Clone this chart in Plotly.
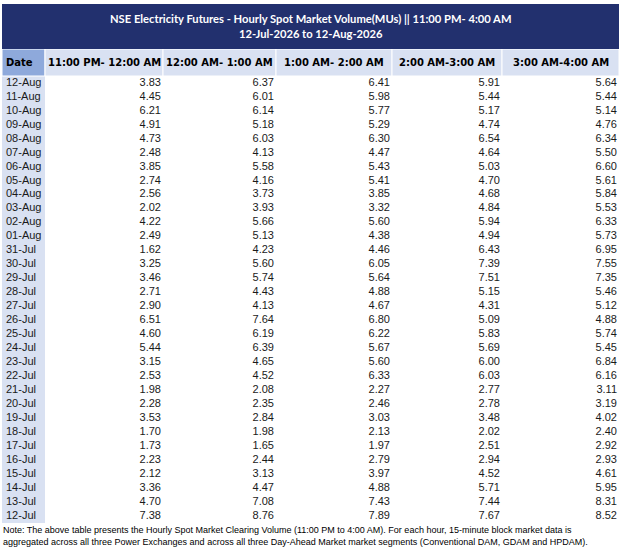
import numpy as np
import plotly.graph_objects as go

# Hourly spot market volume (MUs), newest date first
dates = ["12-Aug", "11-Aug", "10-Aug", "09-Aug", "08-Aug", "07-Aug", "06-Aug", "05-Aug",
         "04-Aug", "03-Aug", "02-Aug", "01-Aug", "31-Jul", "30-Jul", "29-Jul", "28-Jul",
         "27-Jul", "26-Jul", "25-Jul", "24-Jul", "23-Jul", "22-Jul", "21-Jul", "20-Jul",
         "19-Jul", "18-Jul", "17-Jul", "16-Jul", "15-Jul", "14-Jul", "13-Jul", "12-Jul"]

h23_00 = [3.83, 4.45, 6.21, 4.91, 4.73, 2.48, 3.85, 2.74, 2.56, 2.02, 4.22, 2.49, 1.62, 3.25, 3.46, 2.71,
          2.90, 6.51, 4.60, 5.44, 3.15, 2.53, 1.98, 2.28, 3.53, 1.70, 1.73, 2.23, 2.12, 3.36, 4.70, 7.38]
h00_01 = [6.37, 6.01, 6.14, 5.18, 6.03, 4.13, 5.58, 4.16, 3.73, 3.93, 5.66, 5.13, 4.23, 5.60, 5.74, 4.43,
          4.13, 7.64, 6.19, 6.39, 4.65, 4.52, 2.08, 2.35, 2.84, 1.98, 1.65, 2.44, 3.13, 4.47, 7.08, 8.76]
h01_02 = [6.41, 5.98, 5.77, 5.29, 6.30, 4.47, 5.43, 5.41, 3.85, 3.32, 5.60, 4.38, 4.46, 6.05, 5.64, 4.88,
          4.67, 6.80, 6.22, 5.67, 5.60, 6.33, 2.27, 2.46, 3.03, 2.13, 1.97, 2.79, 3.97, 4.88, 7.43, 7.89]
h02_03 = [5.91, 5.44, 5.17, 4.74, 6.54, 4.64, 5.03, 4.70, 4.68, 4.84, 5.94, 4.94, 6.43, 7.39, 7.51, 5.15,
          4.31, 5.09, 5.83, 5.69, 6.00, 6.03, 2.77, 2.78, 3.48, 2.02, 2.51, 2.94, 4.52, 5.71, 7.44, 7.67]
h03_04 = [5.64, 5.44, 5.14, 4.76, 6.34, 5.50, 6.60, 5.61, 5.84, 5.53, 6.33, 5.73, 6.95, 7.55, 7.35, 5.46,
          5.12, 4.88, 5.74, 5.45, 6.84, 6.16, 3.11, 3.19, 4.02, 2.40, 2.92, 2.93, 4.61, 5.95, 8.31, 8.52]

headers = ["Date", "11:00 PM- 12:00 AM", "12:00 AM- 1:00 AM", "1:00 AM- 2:00 AM",
           "2:00 AM-3:00 AM", "3:00 AM-4:00 AM"]

title_lines = ["NSE Electricity Futures - Hourly Spot Market Volume(MUs) || 11:00 PM- 4:00 AM",
               "12-Jul-2026 to 12-Aug-2026"]

note_lines = ["Note: The above table presents the Hourly Spot Market Clearing Volume (11:00 PM to 4:00 AM). "
              "For each hour, 15-minute block market data is",
              "aggregated across all three Power Exchanges and across all three Day-Ahead Market "
              "market segments (Conventional DAM, GDAM and HPDAM)."]

# styling / layout
NAVY = "#22306e"
HEAD_BG = "#d9e1f2"
DATE_HEAD = "#8ea9db"
DATE_BG = "#d9e1f2"
col_w = [43, 118, 113, 116, 110, 117]
edges = np.cumsum([0] + col_w)
W, H = 622, 559
M_T, M_B = 76, 36
plot_h = H - M_T - M_B
HEAD_H = 27
BAND_H = 45

series = [h23_00, h00_01, h01_02, h02_03, h03_04]

fig = go.Figure()

# date column
fig.add_trace(go.Scatter(
    x=[edges[0] + 4] * len(dates), y=dates, mode="text", text=dates,
    textposition="middle right", hoverinfo="skip",
    textfont=dict(family="Liberation Sans, Arial", size=11, color="#1a1a1a"),
))

# value columns, right aligned at the column's right edge
for i, vals in enumerate(series):
    fig.add_trace(go.Scatter(
        x=[edges[i + 2] - 2] * len(vals), y=dates, mode="text",
        text=["%.2f" % v for v in vals],
        textposition="middle left", hoverinfo="skip",
        textfont=dict(family="Liberation Sans, Arial", size=11, color="#1a1a1a"),
    ))

# date column background
fig.add_shape(type="rect", xref="x", yref="paper", x0=edges[0], x1=edges[1], y0=0, y1=1,
              fillcolor=DATE_BG, line_width=0, layer="below")

# header row
head_top = 1 + HEAD_H / plot_h
for i, h in enumerate(headers):
    fig.add_shape(type="rect", xref="x", yref="paper", x0=edges[i], x1=edges[i + 1],
                  y0=1, y1=head_top, fillcolor=DATE_HEAD if i == 0 else HEAD_BG,
                  line=dict(color="white", width=1), layer="below")
    fig.add_annotation(xref="x", yref="paper",
                       x=edges[i] + 2 if i == 0 else (edges[i] + edges[i + 1]) / 2,
                       y=1 + HEAD_H / 2 / plot_h, text="<b>%s</b>" % h, showarrow=False,
                       xanchor="left" if i == 0 else "center", yanchor="middle",
                       font=dict(family="DejaVu Sans", size=10, color="black"))

# title band
fig.add_shape(type="rect", xref="x", yref="paper", x0=edges[0], x1=edges[-1],
              y0=head_top, y1=head_top + BAND_H / plot_h,
              fillcolor=NAVY, line_width=0, layer="below")
fig.add_annotation(xref="paper", yref="paper", x=0.5, y=head_top + BAND_H / 2 / plot_h,
                   text="<b>%s</b><br><b>%s</b>" % (title_lines[0], title_lines[1]),
                   showarrow=False, align="center", xanchor="center", yanchor="middle",
                   font=dict(family="Lato", size=11.2, color="white"))

# note under the table
fig.add_annotation(xref="paper", yref="paper", x=0, y=0, xshift=-1,
                   text="<br>".join(note_lines), showarrow=False, align="left",
                   xanchor="left", yanchor="top",
                   font=dict(family="Liberation Sans, Arial", size=9, color="black"))

fig.update_xaxes(range=[edges[0], edges[-1]], visible=False, fixedrange=True)
fig.update_yaxes(type="category", categoryorder="array", categoryarray=dates,
                 range=[len(dates) - 0.5, -0.5], visible=False, fixedrange=True)

fig.update_layout(
    width=W, height=H,
    margin=dict(l=2, r=W - 2 - int(edges[-1]), t=M_T, b=M_B, pad=0),
    paper_bgcolor="white", plot_bgcolor="white",
    showlegend=False,
)

# the page body has a default 8px margin; drop it so the figure sits at the window corner
fig.write_html("out.html", config={"displayModeBar": False},
               post_script="document.body.style.margin='0';")
